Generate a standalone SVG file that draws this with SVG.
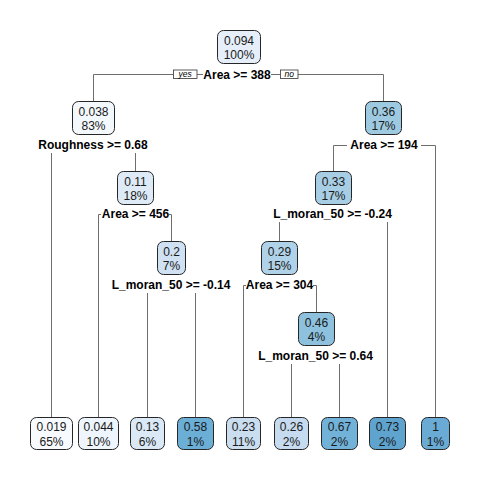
<svg xmlns="http://www.w3.org/2000/svg" width="480" height="480" viewBox="0 0 480 480">
<style>
.n rect{stroke:#262626;stroke-width:1}
.n text{font-family:"Liberation Sans",Arial,sans-serif;font-size:12px;fill:#1a1a1a;text-anchor:middle}
.s{font-family:"Liberation Sans",Arial,sans-serif;font-size:12px;font-weight:bold;fill:#000;text-anchor:middle}
.c path{fill:none;stroke:#6e6e6e;stroke-width:1}
.yn rect{fill:#fff;stroke:#333;stroke-width:0.8}
.yn text{font-family:"Liberation Sans",Arial,sans-serif;font-size:8.5px;font-style:italic;fill:#000;text-anchor:middle}
</style>
<rect width="480" height="480" fill="#fff"/>
<g id="connectors" class="c">
<path d="M93.5,101.5 V74.5 H173"/>
<path d="M197,74.5 H203"/>
<path d="M271,74.5 H280"/>
<path d="M298,74.5 H383.5 V101.5"/>
<path d="M51.5,153 V417.5"/>
<path d="M135.5,153 V171.5"/>
<path d="M333.5,171.5 V145.5 H347"/>
<path d="M421,145.5 H435.5 V417.5"/>
<path d="M101,214.5 H98.5 V417.5"/>
<path d="M169,214.5 H171.5 V241.5"/>
<path d="M279.5,222 V241.5"/>
<path d="M387.5,222 V417.5"/>
<path d="M147.5,293 V417.5"/>
<path d="M195.5,293 V417.5"/>
<path d="M246,285.5 H243.5 V417.5"/>
<path d="M313,285.5 H316.5 V312.5"/>
<path d="M291.5,364 V417.5"/>
<path d="M339.5,364 V417.5"/>
</g>
<g id="yesno" class="yn">
<rect x="173.5" y="70" width="23.5" height="8.5"/>
<text x="185.2" y="77">yes</text>
<rect x="280.5" y="70" width="17.5" height="8.5"/>
<text x="289.2" y="77">no</text>
</g>
<g id="labels">
<text class="s" x="237" y="78.5">Area &gt;= 388</text>
<text class="s" x="93" y="149.3">Roughness &gt;= 0.68</text>
<text class="s" x="384" y="149.3">Area &gt;= 194</text>
<text class="s" x="135.5" y="218.3">Area &gt;= 456</text>
<text class="s" x="332.5" y="218.3">L_moran_50 &gt;= -0.24</text>
<text class="s" x="171" y="289.3">L_moran_50 &gt;= -0.14</text>
<text class="s" x="279.5" y="289.3">Area &gt;= 304</text>
<text class="s" x="315.5" y="360.3">L_moran_50 &gt;= 0.64</text>
</g>
<g id="node1" class="n"><rect x="217.5" y="30.5" width="43" height="33" rx="6" fill="#E6EFF9"/><text x="239" y="44.5">0.094</text><text x="239" y="59">100%</text></g>
<g id="node2" class="n"><rect x="72.5" y="101.5" width="42" height="33" rx="6" fill="#F3F8FD"/><text x="93.5" y="115.5">0.038</text><text x="93.5" y="130">83%</text></g>
<g id="node3" class="n"><rect x="365.5" y="101.5" width="36" height="33" rx="6" fill="#9ECAE1"/><text x="383.5" y="115.5">0.36</text><text x="383.5" y="130">17%</text></g>
<g id="node5" class="n"><rect x="117.5" y="171.5" width="36" height="33" rx="6" fill="#DEEBF7"/><text x="135.5" y="185.5">0.11</text><text x="135.5" y="200">18%</text></g>
<g id="node6" class="n"><rect x="315.5" y="171.5" width="36" height="33" rx="6" fill="#A7CEE4"/><text x="333.5" y="185.5">0.33</text><text x="333.5" y="200">17%</text></g>
<g id="node11" class="n"><rect x="157.5" y="241.5" width="28" height="33" rx="6" fill="#CFE1F2"/><text x="171.5" y="255.5">0.2</text><text x="171.5" y="270">7%</text></g>
<g id="node12" class="n"><rect x="261.5" y="241.5" width="36" height="33" rx="6" fill="#B0D2E8"/><text x="279.5" y="255.5">0.29</text><text x="279.5" y="270">15%</text></g>
<g id="node25" class="n"><rect x="298.5" y="312.5" width="36" height="33" rx="6" fill="#8DC1DD"/><text x="316.5" y="326.5">0.46</text><text x="316.5" y="341">4%</text></g>
<g id="leaf4" class="n"><rect x="30.5" y="417.5" width="42" height="32" rx="6" fill="#F7FBFF"/><text x="51.5" y="431">0.019</text><text x="51.5" y="445.5">65%</text></g>
<g id="leaf10" class="n"><rect x="78.5" y="417.5" width="40" height="32" rx="6" fill="#EEF5FC"/><text x="98.5" y="431">0.044</text><text x="98.5" y="445.5">10%</text></g>
<g id="leaf22" class="n"><rect x="130.5" y="417.5" width="34" height="32" rx="6" fill="#DBE9F6"/><text x="147.5" y="431">0.13</text><text x="147.5" y="445.5">6%</text></g>
<g id="leaf23" class="n"><rect x="177.5" y="417.5" width="36" height="32" rx="6" fill="#6BAED6"/><text x="195.5" y="431">0.58</text><text x="195.5" y="445.5">1%</text></g>
<g id="leaf24" class="n"><rect x="226.5" y="417.5" width="34" height="32" rx="6" fill="#CADEF0"/><text x="243.5" y="431">0.23</text><text x="243.5" y="445.5">11%</text></g>
<g id="leaf50" class="n"><rect x="274.5" y="417.5" width="34" height="32" rx="6" fill="#C6DBEF"/><text x="291.5" y="431">0.26</text><text x="291.5" y="445.5">2%</text></g>
<g id="leaf51" class="n"><rect x="321.5" y="417.5" width="36" height="32" rx="6" fill="#72B2D8"/><text x="339.5" y="431">0.67</text><text x="339.5" y="445.5">2%</text></g>
<g id="leaf13" class="n"><rect x="369.5" y="417.5" width="36" height="32" rx="6" fill="#5FA3CF"/><text x="387.5" y="431">0.73</text><text x="387.5" y="445.5">2%</text></g>
<g id="leaf7" class="n"><rect x="421.5" y="417.5" width="28" height="32" rx="6" fill="#69ABD5"/><text x="435.5" y="431">1</text><text x="435.5" y="445.5">1%</text></g>
</svg>
